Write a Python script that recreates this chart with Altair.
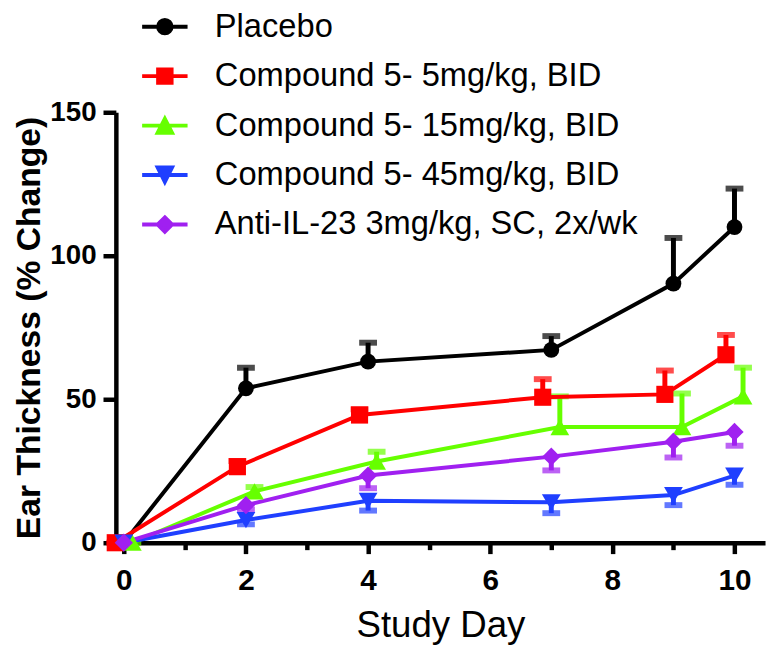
import altair as alt
import pandas as pd

# ---- data ----
days = [0, 2, 4, 7, 9, 10]
series = [
    "Placebo",
    "Compound 5- 5mg/kg, BID",
    "Compound 5- 15mg/kg, BID",
    "Compound 5- 45mg/kg, BID",
    "Anti-IL-23 3mg/kg, SC, 2x/wk",
]
placebo_mean = [0, 53.8, 63.1, 67.2, 90.3, 110.0]
placebo_sem = [0, 7.2, 6.6, 4.8, 15.9, 13.4]
c5_mean = [0, 26.5, 44.5, 50.7, 51.7, 65.5]
c5_sem = [0, 2.0, 2.0, 6.3, 8.3, 6.9]
c15_mean = [0, 17.9, 28.3, 40.3, 40.3, 51.0]
c15_sem = [0, 1.5, 3.4, 10.7, 11.7, 10.0]
c45_mean = [0, 7.9, 14.6, 14.1, 16.6, 23.4]
c45_sem = [0, 1.5, 3.4, 3.8, 3.5, 3.2]
il23_mean = [0, 13.1, 23.4, 30.0, 35.2, 38.6]
il23_sem = [0, 1.5, 4.4, 4.8, 5.5, 4.8]

means = [placebo_mean, c5_mean, c15_mean, c45_mean, il23_mean]
sems = [placebo_sem, c5_sem, c15_sem, c45_sem, il23_sem]

# ---- styling ----
err_side = [1, 1, 1, -1, -1]           # one-sided error bars: up or down
day_nudge = [0, -0.14, 0.14, 0, 0]     # horizontal nudge as in the original
colors = ["#000000", "#FF0000", "#66FF00", "#1F3FFF", "#A020F0"]
shapes = ["circle", "square", "triangle-up", "triangle-down", "diamond"]
sizes = [255, 300, 360, 360, 340]
legend_paths = [
    "M-2.7,0H2.7M0.8,0A0.8,0.8,0,1,1,-0.8,0A0.8,0.8,0,1,1,0.8,0Z",
    "M-2.7,0H2.7M-0.8,-0.8H0.8V0.8H-0.8Z",
    "M-2.7,0H2.7M0,-0.8L0.85,0.85H-0.85Z",
    "M-2.7,0H2.7M-0.85,-0.9H0.85L0,0.8Z",
    "M-2.7,0H2.7M0,-0.85L0.85,0L0,0.85L-0.85,0Z",
]
FONT = "Liberation Sans"

rows = []
for i, s in enumerate(series):
    for d, m, e in zip(days, means[i], sems[i]):
        rows.append({
            "series": s,
            "day": d,
            "xpos": d + day_nudge[i],
            "mean": m,
            "end": m + err_side[i] * e,
        })
df = pd.DataFrame(rows)

xscale = alt.Scale(domain=[-0.13, 10.5], nice=False, zero=False)
yscale = alt.Scale(domain=[0, 150], nice=False)
# data-driven domain (sorted in series order) for the mark colours
cscale = alt.Scale(range=colors)

x_axis = alt.Axis(
    values=list(range(0, 11)),
    labelExpr="datum.value % 2 == 0 ? datum.label : ''",
    tickSize={"condition": {"test": "datum.value % 2 == 1", "value": 7}, "value": 11},
    labelFlush=False,
    labelOverlap=False,
    labelFontSize=30,
    labelPadding=12,
    title="Study Day",
    titleFontSize=37,
    titleFontWeight="normal",
    titlePadding=13,
)
y_axis = alt.Axis(
    values=[0, 50, 100, 150],
    tickSize=13,
    labelFontSize=28,
    labelPadding=7,
    title="Ear Thickness (% Change)",
    titleFontSize=34,
    titleFontWeight="bold",
    titlePadding=3,
)

X = alt.X("xpos:Q", scale=xscale, axis=x_axis)
Y = alt.Y("mean:Q", scale=yscale, axis=y_axis)
C = alt.Color("series:N", scale=cscale, legend=None, sort=series)

base = alt.Chart(df)

err_rule = base.mark_rule(strokeWidth=5).encode(x=X, y=Y, y2="end:Q", color=C)
err_cap = base.mark_tick(orient="horizontal", size=18, thickness=6).encode(
    x=X, y=alt.Y("end:Q", scale=yscale), color=C
)
lines = base.mark_line(strokeWidth=4).encode(
    x=X, y=Y, color=C, detail="series:N", order="day:Q"
)

point_layers = []
for i, s in enumerate(series):
    point_layers.append(
        base.transform_filter(alt.datum.series == s)
        .mark_point(filled=True, shape=shapes[i], size=sizes[i], opacity=1)
        .encode(x=X, y=Y, color=C)
    )

leg = alt.Legend(
    orient="none",
    legendX=33,
    legendY=-103,
    title=None,
    labelFont=FONT,
    labelFontSize=33,
    labelColor="black",
    labelLimit=0,
    labelOffset=34,
    symbolSize=289,
    symbolStrokeWidth=4,
    symbolOpacity=1,
    rowPadding=16,
    padding=0,
)
# legend-only layer: no rows reach its marks, the legend comes from the explicit domains
legend_layer = base.transform_filter(alt.datum.day < -100).mark_point(filled=True).encode(
    x=X,
    y=Y,
    fill=alt.Fill("series:N", scale=alt.Scale(domain=series, range=colors), legend=leg),
    stroke=alt.Stroke("series:N", scale=alt.Scale(domain=series, range=colors), legend=leg),
    shape=alt.Shape("series:N", scale=alt.Scale(domain=series, range=legend_paths), legend=leg),
)

chart = (
    alt.layer(err_rule, err_cap, lines, *point_layers, legend_layer)
    .properties(
        width=656,
        height=435,
        padding={"left": 109, "top": 102, "right": 3, "bottom": 101},
        autosize="none",
        background="white",
    )
    .configure_view(stroke=None)
    .configure_axis(
        grid=False,
        domainColor="black",
        domainWidth=4.5,
        tickColor="black",
        tickWidth=4.5,
        labelFont=FONT,
        labelFontWeight="bold",
        labelColor="black",
        titleFont=FONT,
        titleColor="black",
    )
)

chart.save("out.html", embed_options={"renderer": "svg", "actions": False})
